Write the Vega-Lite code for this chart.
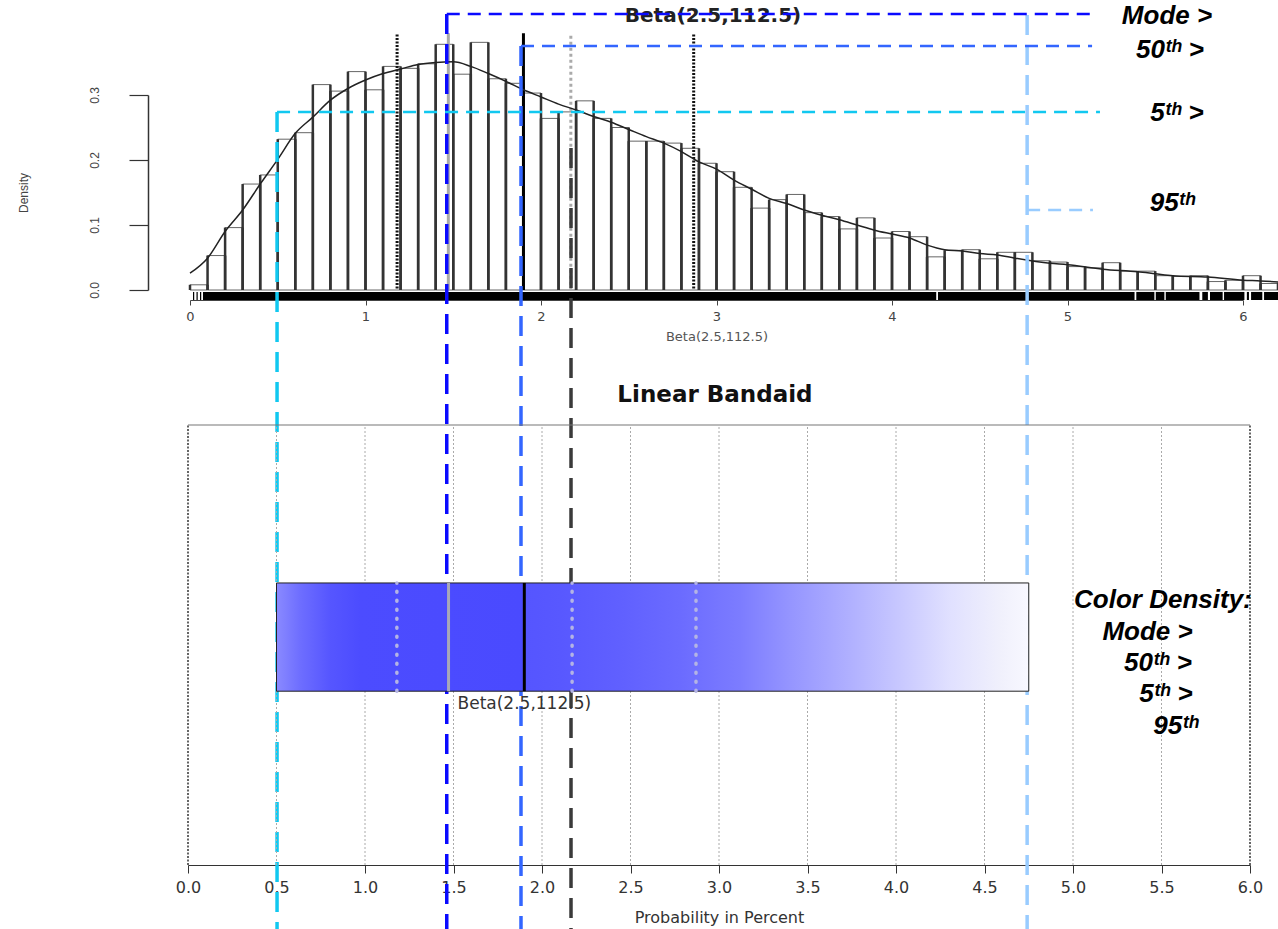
{
  "$schema": "https://vega.github.io/schema/vega-lite/v6.json",
  "width": 1278,
  "height": 929,
  "autosize": {"type": "none"},
  "padding": 0,
  "background": "white",
  "config": {"view": {"stroke": null}, "axis": {"grid": false}},
  "datasets": {
    "hist": [
      {"start": 0.0, "end": 0.1, "density": 0.008}, {"start": 0.1, "end": 0.2, "density": 0.053},
      {"start": 0.2, "end": 0.3, "density": 0.096}, {"start": 0.3, "end": 0.4, "density": 0.163},
      {"start": 0.4, "end": 0.5, "density": 0.177}, {"start": 0.5, "end": 0.6, "density": 0.232},
      {"start": 0.6, "end": 0.7, "density": 0.242}, {"start": 0.7, "end": 0.8, "density": 0.316},
      {"start": 0.8, "end": 0.9, "density": 0.306}, {"start": 0.9, "end": 1.0, "density": 0.336},
      {"start": 1.0, "end": 1.1, "density": 0.308}, {"start": 1.1, "end": 1.2, "density": 0.344},
      {"start": 1.2, "end": 1.3, "density": 0.341}, {"start": 1.3, "end": 1.4, "density": 0.348},
      {"start": 1.4, "end": 1.5, "density": 0.378}, {"start": 1.5, "end": 1.6, "density": 0.332},
      {"start": 1.6, "end": 1.7, "density": 0.381}, {"start": 1.7, "end": 1.8, "density": 0.325},
      {"start": 1.8, "end": 1.9, "density": 0.318}, {"start": 1.9, "end": 2.0, "density": 0.303},
      {"start": 2.0, "end": 2.1, "density": 0.264}, {"start": 2.1, "end": 2.2, "density": 0.274},
      {"start": 2.2, "end": 2.3, "density": 0.291}, {"start": 2.3, "end": 2.4, "density": 0.264},
      {"start": 2.4, "end": 2.5, "density": 0.250}, {"start": 2.5, "end": 2.6, "density": 0.229},
      {"start": 2.6, "end": 2.7, "density": 0.229}, {"start": 2.7, "end": 2.8, "density": 0.226},
      {"start": 2.8, "end": 2.9, "density": 0.218}, {"start": 2.9, "end": 3.0, "density": 0.195},
      {"start": 3.0, "end": 3.1, "density": 0.182}, {"start": 3.1, "end": 3.2, "density": 0.158},
      {"start": 3.2, "end": 3.3, "density": 0.126}, {"start": 3.3, "end": 3.4, "density": 0.139},
      {"start": 3.4, "end": 3.5, "density": 0.147}, {"start": 3.5, "end": 3.6, "density": 0.119},
      {"start": 3.6, "end": 3.7, "density": 0.113}, {"start": 3.7, "end": 3.8, "density": 0.094},
      {"start": 3.8, "end": 3.9, "density": 0.111}, {"start": 3.9, "end": 4.0, "density": 0.080},
      {"start": 4.0, "end": 4.1, "density": 0.090}, {"start": 4.1, "end": 4.2, "density": 0.082},
      {"start": 4.2, "end": 4.3, "density": 0.051}, {"start": 4.3, "end": 4.4, "density": 0.061},
      {"start": 4.4, "end": 4.5, "density": 0.062}, {"start": 4.5, "end": 4.6, "density": 0.048},
      {"start": 4.6, "end": 4.7, "density": 0.058}, {"start": 4.7, "end": 4.8, "density": 0.058},
      {"start": 4.8, "end": 4.9, "density": 0.045}, {"start": 4.9, "end": 5.0, "density": 0.043},
      {"start": 5.0, "end": 5.1, "density": 0.036}, {"start": 5.1, "end": 5.2, "density": 0.034},
      {"start": 5.2, "end": 5.3, "density": 0.042}, {"start": 5.3, "end": 5.4, "density": 0.029},
      {"start": 5.4, "end": 5.5, "density": 0.029}, {"start": 5.5, "end": 5.6, "density": 0.022},
      {"start": 5.6, "end": 5.7, "density": 0.021}, {"start": 5.7, "end": 5.8, "density": 0.022},
      {"start": 5.8, "end": 5.9, "density": 0.013}, {"start": 5.9, "end": 6.0, "density": 0.015},
      {"start": 6.0, "end": 6.1, "density": 0.022}, {"start": 6.1, "end": 6.2, "density": 0.010},
      {"start": 6.2, "end": 6.3, "density": 0.011}
    ],
    "curve": [
      {"x": 0.0, "d": 0.026}, {"x": 0.1, "d": 0.049}, {"x": 0.2, "d": 0.090}, {"x": 0.3, "d": 0.123},
      {"x": 0.4, "d": 0.163}, {"x": 0.5, "d": 0.201}, {"x": 0.6, "d": 0.241}, {"x": 0.7, "d": 0.266},
      {"x": 0.8, "d": 0.292}, {"x": 0.9, "d": 0.310}, {"x": 1.0, "d": 0.323}, {"x": 1.1, "d": 0.333},
      {"x": 1.2, "d": 0.340}, {"x": 1.3, "d": 0.347}, {"x": 1.4, "d": 0.350}, {"x": 1.5, "d": 0.351},
      {"x": 1.6, "d": 0.344}, {"x": 1.7, "d": 0.333}, {"x": 1.8, "d": 0.321}, {"x": 1.9, "d": 0.308},
      {"x": 2.0, "d": 0.297}, {"x": 2.1, "d": 0.286}, {"x": 2.2, "d": 0.277}, {"x": 2.3, "d": 0.267},
      {"x": 2.4, "d": 0.258}, {"x": 2.5, "d": 0.247}, {"x": 2.6, "d": 0.236}, {"x": 2.7, "d": 0.226},
      {"x": 2.8, "d": 0.213}, {"x": 2.9, "d": 0.197}, {"x": 3.0, "d": 0.186}, {"x": 3.1, "d": 0.169},
      {"x": 3.2, "d": 0.155}, {"x": 3.3, "d": 0.141}, {"x": 3.4, "d": 0.133}, {"x": 3.5, "d": 0.123},
      {"x": 3.6, "d": 0.115}, {"x": 3.7, "d": 0.108}, {"x": 3.8, "d": 0.100}, {"x": 3.9, "d": 0.092},
      {"x": 4.0, "d": 0.086}, {"x": 4.1, "d": 0.080}, {"x": 4.2, "d": 0.069}, {"x": 4.3, "d": 0.062},
      {"x": 4.4, "d": 0.060}, {"x": 4.5, "d": 0.056}, {"x": 4.6, "d": 0.054}, {"x": 4.7, "d": 0.049},
      {"x": 4.9, "d": 0.041}, {"x": 5.0, "d": 0.039}, {"x": 5.2, "d": 0.032}, {"x": 5.4, "d": 0.028},
      {"x": 5.5, "d": 0.025}, {"x": 5.6, "d": 0.022}, {"x": 5.8, "d": 0.020}, {"x": 6.0, "d": 0.015},
      {"x": 6.1, "d": 0.014}, {"x": 6.3, "d": 0.010}
    ],
    "rug": [
      {"from": 0.017, "to": 0.024}, {"from": 0.037, "to": 0.044}, {"from": 0.057, "to": 0.064},
      {"from": 0.074, "to": 4.252}, {"from": 4.262, "to": 5.382}, {"from": 5.392, "to": 5.495},
      {"from": 5.503, "to": 5.552}, {"from": 5.560, "to": 5.752}, {"from": 5.768, "to": 5.800},
      {"from": 5.812, "to": 5.884}, {"from": 5.892, "to": 6.008}, {"from": 6.022, "to": 6.034},
      {"from": 6.046, "to": 6.110}, {"from": 6.120, "to": 6.350}
    ],
    "stats": [
      {"stat": "sd_lo", "value": 1.18}, {"stat": "mode", "value": 1.472},
      {"stat": "median", "value": 1.9}, {"stat": "mean", "value": 2.17},
      {"stat": "sd_hi", "value": 2.87}
    ],
    "guides": [
      {"name": "Mode", "x": 1.463, "vtop": 0.4246, "hy": 0.4246, "hx2": 5.157},
      {"name": "50th", "x": 1.886, "vtop": 0.3754, "hy": 0.3754, "hx2": 5.14},
      {"name": "5th", "x": 0.496, "vtop": 0.2738, "hy": 0.2738, "hx2": 5.185},
      {"name": "95th", "x": 4.77, "vtop": 0.423, "hy": 0.123, "hx2": 5.145},
      {"name": "Mean", "x": 2.171, "vtop": 0.2185}
    ],
    "toplabels": [
      {"label": "Mode >", "x": 5.567, "y": 0.421},
      {"label": "50ᵗʰ >", "x": 5.584, "y": 0.369},
      {"label": "5ᵗʰ >", "x": 5.624, "y": 0.2723},
      {"label": "95ᵗʰ", "x": 5.598, "y": 0.1338}
    ],
    "grid": [
      {"v": 0}, {"v": 0.5}, {"v": 1}, {"v": 1.5}, {"v": 2}, {"v": 2.5}, {"v": 3},
      {"v": 3.5}, {"v": 4}, {"v": 4.5}, {"v": 5}, {"v": 5.5}, {"v": 6}
    ],
    "bar": [{"label": "Beta(2.5,112.5)", "lo": 0.5, "hi": 4.75, "labelx": 1.9}],
    "bottomlabels": [
      {"label": "Color Density:", "x": 5.508, "y": 0.602},
      {"label": "Mode >", "x": 5.421, "y": 0.5295},
      {"label": "50ᵗʰ >", "x": 5.48, "y": 0.459},
      {"label": "5ᵗʰ >", "x": 5.525, "y": 0.3886},
      {"label": "95ᵗʰ", "x": 5.582, "y": 0.316}
    ]
  },
  "resolve": {
    "scale": {"x": "independent", "y": "independent", "color": "independent"},
    "axis": {"x": "independent", "y": "independent"}
  },
  "layer": [
    {
      "layer": [
        {
          "data": {"name": "hist"},
          "mark": {"type": "rect", "fill": "white", "stroke": "#666", "strokeWidth": 1},
          "encoding": {
            "x": {
              "field": "start", "type": "quantitative",
              "scale": {"domain": [0, 6], "range": [190, 1243], "nice": false, "zero": false},
              "axis": {
                "orient": "bottom", "offset": -629, "values": [0, 1, 2, 3, 4, 5, 6], "format": "d",
                "title": "Beta(2.5,112.5)", "tickSize": 5, "labelPadding": 5,
                "labelFont": "DejaVu Sans", "labelFontSize": 13, "labelColor": "#444",
                "tickColor": "#444", "domainColor": "#444", "labelFlush": false, "labelOverlap": false,
                "titleFont": "DejaVu Sans", "titleFontSize": 13, "titleFontWeight": "normal",
                "titleColor": "#555", "titlePadding": 7, "grid": false
              }
            },
            "x2": {"field": "end"},
            "y": {
              "field": "density", "type": "quantitative",
              "scale": {"domain": [0, 0.3], "range": [290, 95], "nice": false, "zero": false},
              "axis": {
                "orient": "left", "offset": -148, "values": [0, 0.1, 0.2, 0.3], "format": ".1f",
                "title": "Density", "tickSize": 19, "labelAngle": -90, "labelAlign": "center",
                "labelBaseline": "bottom", "labelPadding": 28, "labelFont": "Liberation Sans",
                "labelFontSize": 12, "labelColor": "#444", "tickColor": "#333", "domainColor": "#333",
                "domainWidth": 1.5, "tickWidth": 1.2, "labelFlush": false,
                "titleFont": "Liberation Sans", "titleFontSize": 12, "titleFontWeight": "normal",
                "titleColor": "#444", "titlePadding": 58, "grid": false
              }
            },
            "y2": {"datum": 0}
          }
        },
        {
          "data": {"name": "hist"},
          "mark": {"type": "rule", "color": "#333", "strokeWidth": 2.5},
          "encoding": {
            "x": {"field": "start", "type": "quantitative"},
            "y": {"field": "density", "type": "quantitative"},
            "y2": {"datum": 0}
          }
        },
        {
          "data": {"name": "hist"},
          "mark": {"type": "rule", "color": "#333", "strokeWidth": 2.5},
          "encoding": {
            "x": {"field": "end", "type": "quantitative"},
            "y": {"field": "density", "type": "quantitative"},
            "y2": {"datum": 0}
          }
        },
        {
          "data": {"name": "rug"},
          "mark": {"type": "rect", "fill": "#000"},
          "encoding": {
            "x": {"field": "from", "type": "quantitative"},
            "x2": {"field": "to"},
            "y": {"datum": -0.003, "type": "quantitative"},
            "y2": {"datum": -0.0154}
          }
        },
        {
          "data": {"name": "stats"},
          "transform": [{"filter": "datum.stat === 'sd_lo' || datum.stat === 'sd_hi'"}],
          "mark": {"type": "rule", "color": "#111", "strokeWidth": 3, "strokeDash": [2, 1.5]},
          "encoding": {
            "x": {"field": "value", "type": "quantitative"},
            "y": {"datum": 0.393, "type": "quantitative"},
            "y2": {"datum": 0}
          }
        },
        {
          "data": {"name": "stats"},
          "transform": [{"filter": "datum.stat === 'mode'"}],
          "mark": {"type": "rule", "color": "#aaaaaa", "strokeWidth": 3},
          "encoding": {
            "x": {"field": "value", "type": "quantitative"},
            "y": {"datum": 0.395, "type": "quantitative"},
            "y2": {"datum": 0}
          }
        },
        {
          "data": {"name": "stats"},
          "transform": [{"filter": "datum.stat === 'median'"}],
          "mark": {"type": "rule", "color": "#000", "strokeWidth": 3},
          "encoding": {
            "x": {"field": "value", "type": "quantitative"},
            "y": {"datum": 0.395, "type": "quantitative"},
            "y2": {"datum": 0}
          }
        },
        {
          "data": {"name": "stats"},
          "transform": [{"filter": "datum.stat === 'mean'"}],
          "mark": {"type": "rule", "color": "#aaaaaa", "strokeWidth": 3, "strokeDash": [3, 3]},
          "encoding": {
            "x": {"field": "value", "type": "quantitative"},
            "y": {"datum": 0.391, "type": "quantitative"},
            "y2": {"datum": 0}
          }
        },
        {
          "data": {"name": "curve"},
          "mark": {"type": "line", "color": "#222", "strokeWidth": 1.5, "interpolate": "monotone"},
          "encoding": {
            "x": {"field": "x", "type": "quantitative"},
            "y": {"field": "d", "type": "quantitative"}
          }
        },
        {
          "data": {"values": [{"label": "Beta(2.5,112.5)", "x": 2.98, "y": 0.4215}]},
          "mark": {"type": "text", "font": "DejaVu Sans", "fontWeight": "bold", "fontSize": 20, "color": "#222", "align": "center", "baseline": "middle"},
          "encoding": {
            "x": {"field": "x", "type": "quantitative"},
            "y": {"field": "y", "type": "quantitative"},
            "text": {"field": "label"}
          }
        },
        {
          "data": {"name": "guides"},
          "mark": {"type": "rule", "strokeWidth": 3.5, "strokeDash": [20, 10]},
          "encoding": {
            "x": {"field": "x", "type": "quantitative"},
            "y": {"field": "vtop", "type": "quantitative"},
            "y2": {"datum": -1.1},
            "color": {
              "field": "name", "type": "nominal", "legend": null,
              "scale": {"domain": ["Mode", "50th", "5th", "95th", "Mean"], "range": ["#0a0aff", "#3366ff", "#11c8f0", "#99ccff", "#3a3a3a"]}
            }
          }
        },
        {
          "data": {"name": "guides"},
          "transform": [{"filter": "isValid(datum.hy)"}],
          "mark": {"type": "rule", "strokeWidth": 2.5, "strokeDash": [13, 8]},
          "encoding": {
            "x": {"field": "x", "type": "quantitative"},
            "x2": {"field": "hx2"},
            "y": {"field": "hy", "type": "quantitative"},
            "color": {"field": "name", "type": "nominal", "legend": null}
          }
        },
        {
          "data": {"name": "toplabels"},
          "mark": {"type": "text", "font": "Liberation Sans", "fontWeight": "bold", "fontStyle": "italic", "fontSize": 26, "color": "#000", "align": "center", "baseline": "middle"},
          "encoding": {
            "x": {"field": "x", "type": "quantitative"},
            "y": {"field": "y", "type": "quantitative"},
            "text": {"field": "label"}
          }
        }
      ]
    },
    {
      "layer": [
        {
          "data": {"name": "grid"},
          "transform": [{"filter": "datum.v > 0 && datum.v < 6"}],
          "mark": {"type": "rule", "color": "#aaaaaa", "strokeWidth": 1, "strokeDash": [2, 2]},
          "encoding": {
            "x": {
              "field": "v", "type": "quantitative",
              "scale": {"domain": [0, 6], "range": [188, 1250], "nice": false, "zero": false},
              "axis": {
                "orient": "bottom", "offset": -64,
                "values": [0, 0.5, 1, 1.5, 2, 2.5, 3, 3.5, 4, 4.5, 5, 5.5, 6], "format": ".1f",
                "title": "Probability in Percent", "tickSize": 8, "labelPadding": 6,
                "labelFont": "DejaVu Sans", "labelFontSize": 16, "labelColor": "#333",
                "tickColor": "#333", "domainColor": "#333", "domainWidth": 1.2,
                "labelFlush": false, "labelOverlap": false,
                "titleFont": "DejaVu Sans", "titleFontSize": 16, "titleFontWeight": "normal",
                "titleColor": "#333", "titlePadding": 14, "grid": false
              }
            },
            "y": {
              "datum": 0, "type": "quantitative",
              "scale": {"domain": [0, 1], "range": [865, 425], "nice": false, "zero": false},
              "axis": null
            },
            "y2": {"datum": 1}
          }
        },
        {
          "data": {"name": "grid"},
          "transform": [{"filter": "datum.v === 0 || datum.v === 6"}],
          "mark": {"type": "rule", "color": "#333", "strokeWidth": 1.5, "strokeDash": [2, 1.5]},
          "encoding": {
            "x": {"field": "v", "type": "quantitative"},
            "y": {"datum": 0, "type": "quantitative"},
            "y2": {"datum": 1}
          }
        },
        {
          "data": {"values": [{}]},
          "mark": {"type": "rule", "color": "#777", "strokeWidth": 1.2},
          "encoding": {
            "x": {"datum": 0, "type": "quantitative"},
            "x2": {"datum": 6},
            "y": {"datum": 1, "type": "quantitative"}
          }
        },
        {
          "data": {"name": "bar"},
          "mark": {
            "type": "rect", "stroke": "#222", "strokeWidth": 1,
            "fill": {
              "x1": 0, "y1": 0, "x2": 1, "y2": 0, "gradient": "linear",
              "stops": [
                {"offset": 0, "color": "#8a8aff"},
                {"offset": 0.031, "color": "#6e6eff"},
                {"offset": 0.071, "color": "#5656ff"},
                {"offset": 0.111, "color": "#4c4cff"},
                {"offset": 0.326, "color": "#4a4aff"},
                {"offset": 0.328, "color": "#5555ff"},
                {"offset": 0.377, "color": "#5858ff"},
                {"offset": 0.457, "color": "#6060ff"},
                {"offset": 0.536, "color": "#6b6bff"},
                {"offset": 0.616, "color": "#7c7cff"},
                {"offset": 0.683, "color": "#9595ff"},
                {"offset": 0.762, "color": "#b0b0ff"},
                {"offset": 0.829, "color": "#c8c8ff"},
                {"offset": 0.894, "color": "#e0e0ff"},
                {"offset": 0.961, "color": "#f0f0fc"},
                {"offset": 1, "color": "#f8f8ff"}
              ]
            }
          },
          "encoding": {
            "x": {"field": "lo", "type": "quantitative"},
            "x2": {"field": "hi"},
            "y": {"datum": 0.395, "type": "quantitative"},
            "y2": {"datum": 0.641}
          }
        },
        {
          "data": {"name": "stats"},
          "transform": [{"filter": "datum.stat === 'sd_lo' || datum.stat === 'sd_hi' || datum.stat === 'mean'"}],
          "mark": {"type": "rule", "color": "#b4b4e4", "strokeWidth": 3.5, "strokeDash": [1, 8], "strokeCap": "round"},
          "encoding": {
            "x": {"field": "value", "type": "quantitative"},
            "y": {"datum": 0.395, "type": "quantitative"},
            "y2": {"datum": 0.641}
          }
        },
        {
          "data": {"name": "stats"},
          "transform": [{"filter": "datum.stat === 'mode'"}],
          "mark": {"type": "rule", "color": "#a8a8b8", "strokeWidth": 3},
          "encoding": {
            "x": {"field": "value", "type": "quantitative"},
            "y": {"datum": 0.395, "type": "quantitative"},
            "y2": {"datum": 0.641}
          }
        },
        {
          "data": {"name": "stats"},
          "transform": [{"filter": "datum.stat === 'median'"}],
          "mark": {"type": "rule", "color": "#000", "strokeWidth": 3},
          "encoding": {
            "x": {"field": "value", "type": "quantitative"},
            "y": {"datum": 0.395, "type": "quantitative"},
            "y2": {"datum": 0.641}
          }
        },
        {
          "data": {"name": "bar"},
          "mark": {"type": "text", "font": "DejaVu Sans", "fontSize": 17, "color": "#333", "align": "center", "baseline": "middle"},
          "encoding": {
            "x": {"field": "labelx", "type": "quantitative"},
            "y": {"datum": 0.366, "type": "quantitative"},
            "text": {"field": "label"}
          }
        },
        {
          "data": {"values": [{"label": "Linear Bandaid", "x": 2.977, "y": 1.068}]},
          "mark": {"type": "text", "font": "DejaVu Sans", "fontWeight": "bold", "fontSize": 23, "color": "#111", "align": "center", "baseline": "middle"},
          "encoding": {
            "x": {"field": "x", "type": "quantitative"},
            "y": {"field": "y", "type": "quantitative"},
            "text": {"field": "label"}
          }
        },
        {
          "data": {"name": "bottomlabels"},
          "mark": {"type": "text", "font": "Liberation Sans", "fontWeight": "bold", "fontStyle": "italic", "fontSize": 26, "color": "#000", "align": "center", "baseline": "middle"},
          "encoding": {
            "x": {"field": "x", "type": "quantitative"},
            "y": {"field": "y", "type": "quantitative"},
            "text": {"field": "label"}
          }
        }
      ]
    }
  ]
}
